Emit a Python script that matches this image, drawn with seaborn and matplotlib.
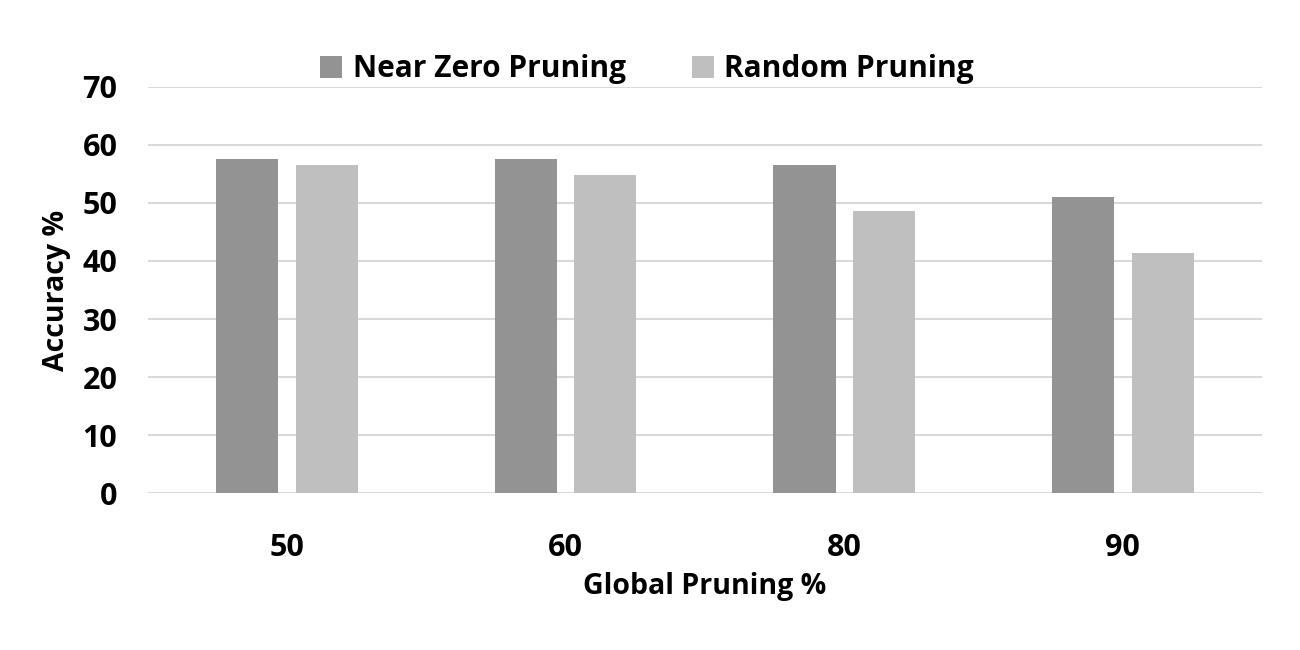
import matplotlib
matplotlib.use("Agg")
import matplotlib.pyplot as plt
import seaborn as sns
import pandas as pd

categories = ["50", "60", "80", "90"]
near_zero = [57.5, 57.5, 56.6, 51.1]
random_pr = [56.5, 54.9, 48.6, 41.4]
series_names = ["Near Zero Pruning", "Random Pruning"]
yticks = [0, 10, 20, 30, 40, 50, 60, 70]

df = pd.DataFrame({
    "cat": categories * 2,
    "val": near_zero + random_pr,
    "series": [series_names[0]] * 4 + [series_names[1]] * 4,
})

sns.set_style("white")
plt.rcParams["font.family"] = ["Open Sans", "DejaVu Sans"]
plt.rcParams["font.weight"] = "bold"
plt.rcParams["text.color"] = "black"
plt.rcParams["xtick.color"] = "black"
plt.rcParams["ytick.color"] = "black"
plt.rcParams["axes.labelcolor"] = "black"

fig = plt.figure(figsize=(13, 6.5), dpi=100)
ax = fig.add_axes([0.1138, 0.2415, 0.857, 0.6247])

sns.barplot(data=df, x="cat", y="val", hue="series", order=categories,
            hue_order=series_names, palette=["#939393", "#bfbfbf"],
            width=0.571, gap=0.22, ax=ax, legend=True, edgecolor="none")

ax.set_ylim(0, 70)
ax.set_yticks(yticks)
ax.set_xlim(-0.5, 3.5)
ax.yaxis.grid(True, color="#d9d9d9", linewidth=1.5)
ax.set_axisbelow(True)
for s in ax.spines.values():
    s.set_visible(False)
ax.tick_params(axis="both", length=0, labelsize=22)
ax.tick_params(axis="x", pad=29)
ax.tick_params(axis="y", pad=22)
for lab in ax.get_xticklabels() + ax.get_yticklabels():
    lab.set_fontweight("bold")
ax.set_xlabel("Global Pruning %", fontsize=20.5, fontweight="bold", labelpad=6)
ax.set_ylabel("Accuracy %", fontsize=20.5, fontweight="bold", labelpad=8)

handles, labels = ax.get_legend_handles_labels()
ax.legend(handles, labels, loc="lower center", bbox_to_anchor=(0.448, 0.94),
          ncol=2, frameon=False, prop={"size": 21.5, "weight": "bold"},
          handlelength=0.75, handleheight=0.75, columnspacing=2.2,
          handletextpad=0.35)

fig.savefig("out.png", dpi=100)
